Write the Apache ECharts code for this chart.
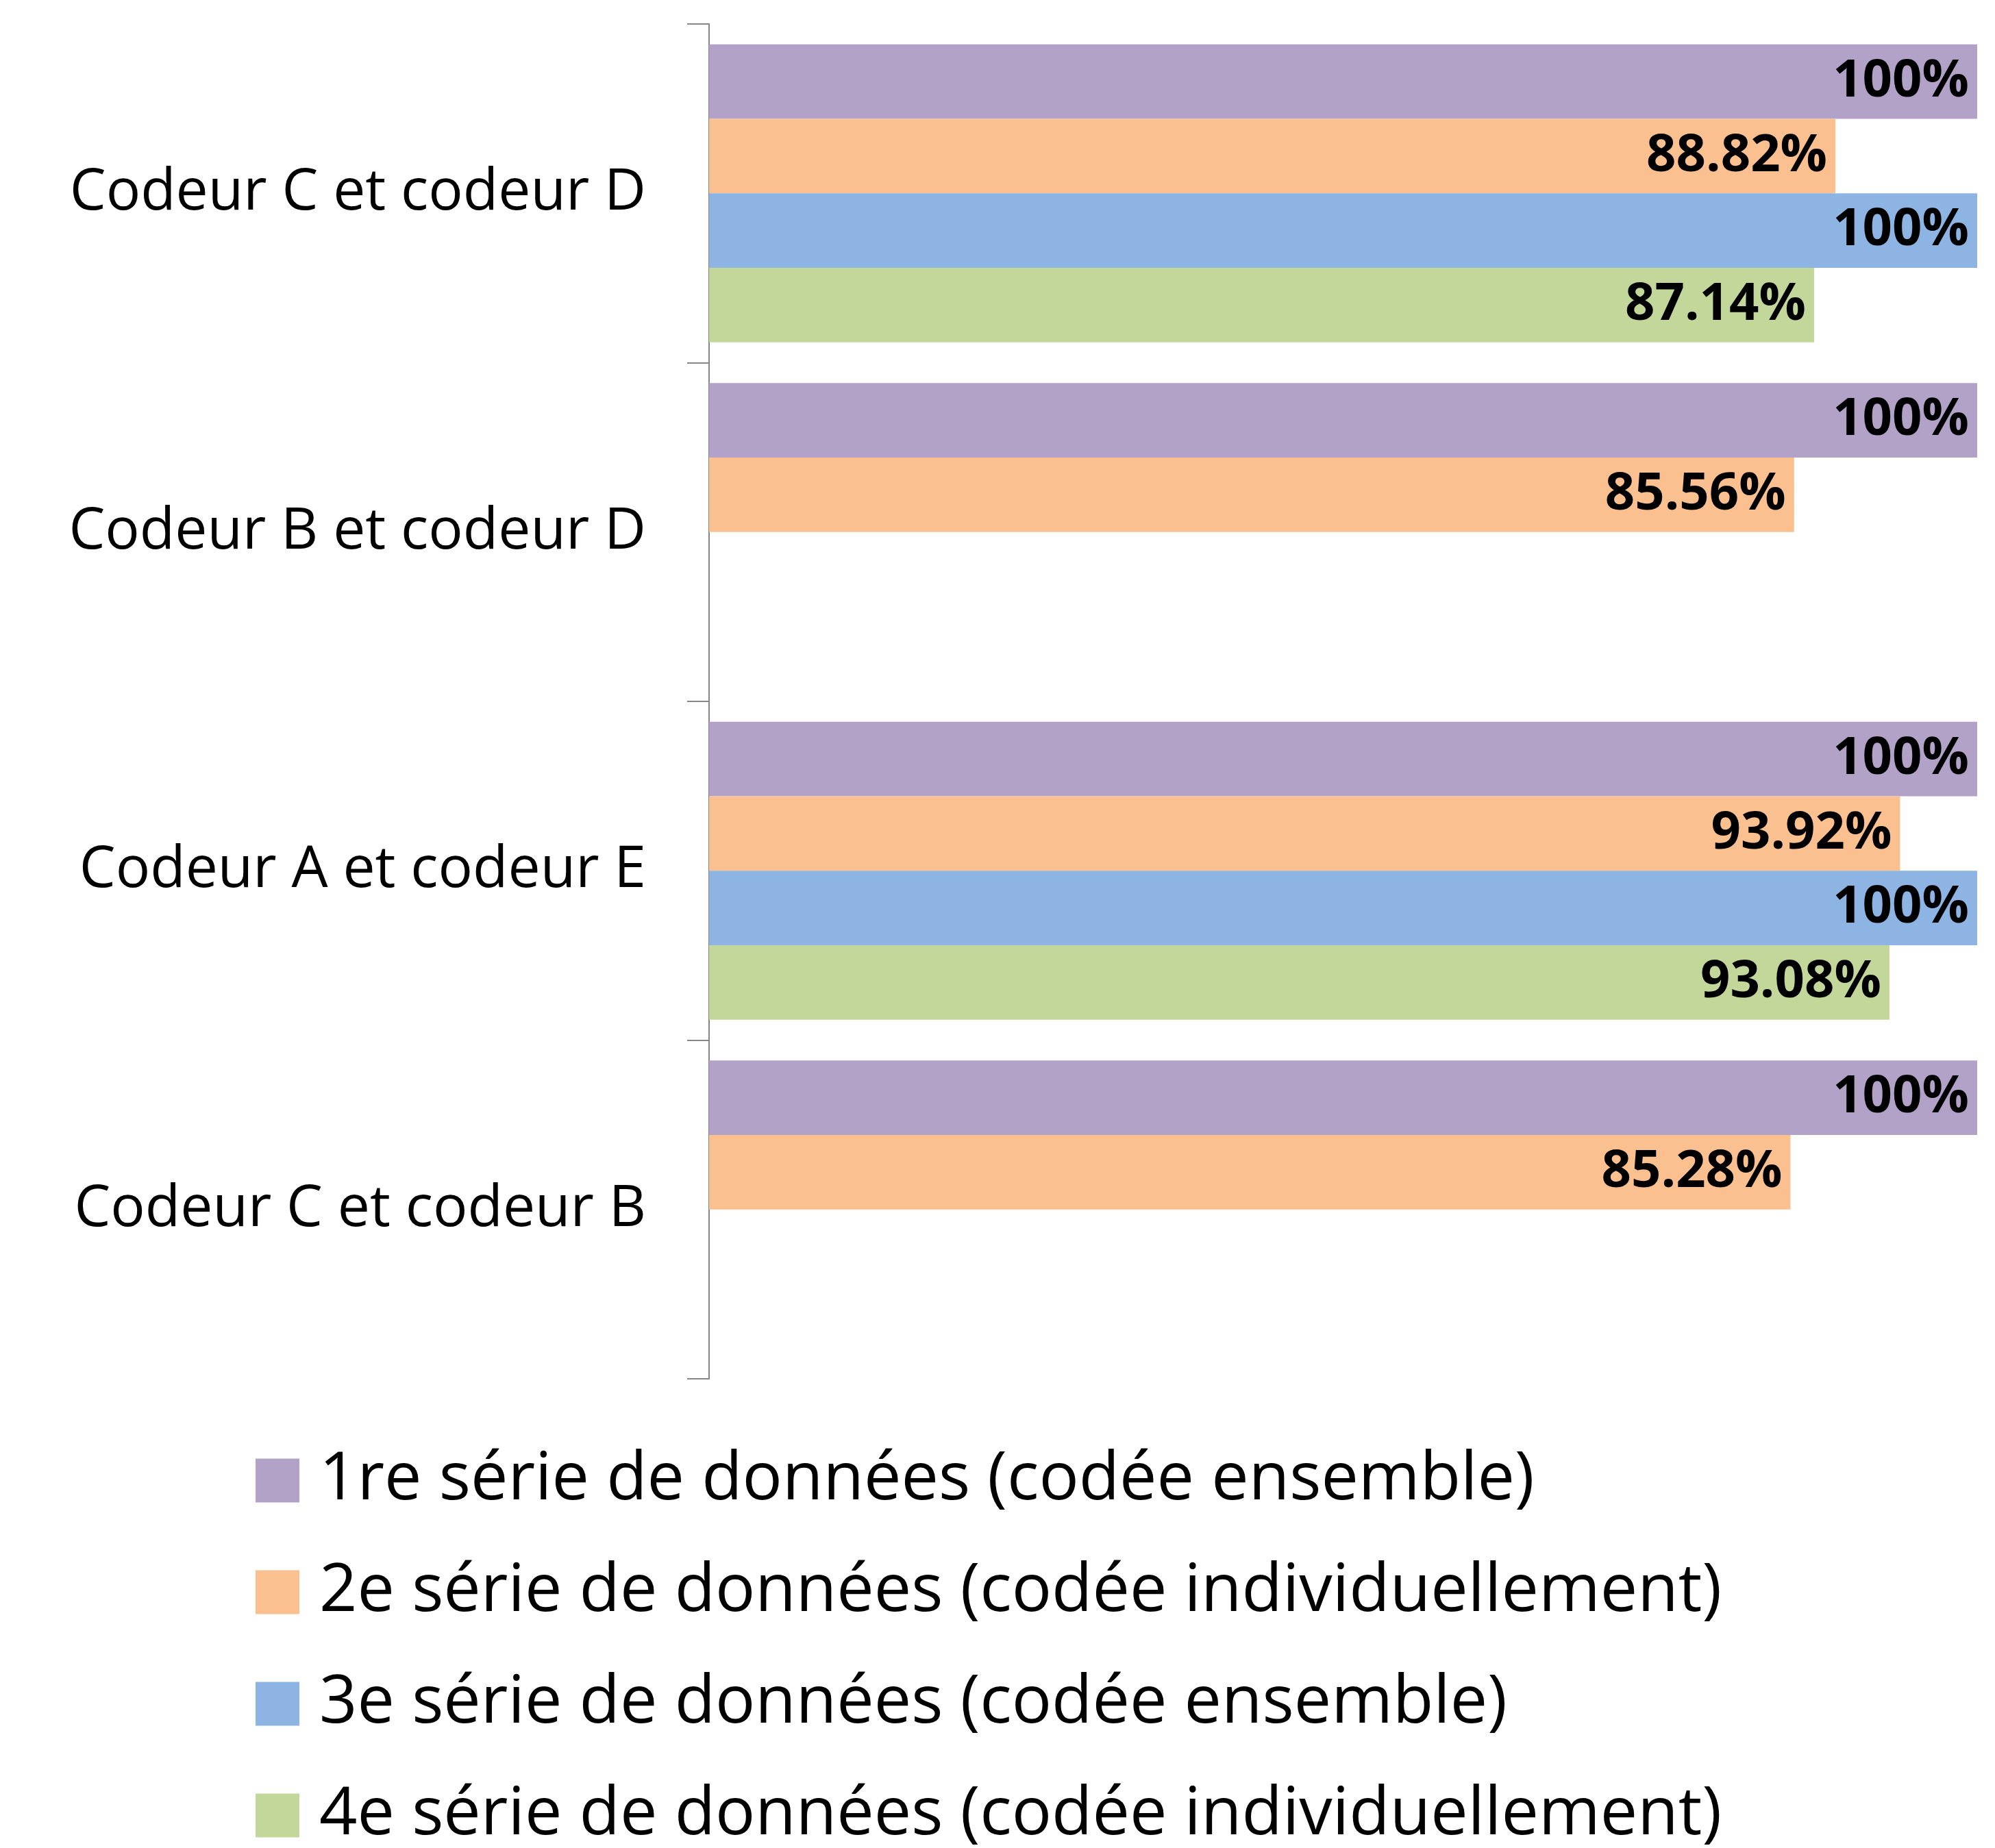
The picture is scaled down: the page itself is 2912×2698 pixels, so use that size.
<!DOCTYPE html>
<html>
<head>
<meta charset="utf-8">
<script src="https://cdn.jsdelivr.net/npm/echarts@6/dist/echarts.min.js"></script>
<style>
  html, body { margin: 0; padding: 0; background: #fff; }
  #chart { width: 2912px; height: 2698px; }
</style>
</head>
<body>
<div id="chart"></div>
<script>
const categories = ["Codeur C et codeur D", "Codeur B et codeur D", "Codeur A et codeur E", "Codeur C et codeur B"];
const seriesNames = [
  "1re série de données (codée ensemble)",
  "2e série de données (codée individuellement)",
  "3e série de données (codée ensemble)",
  "4e série de données (codée individuellement)"
];
const serie1 = [100, 100, 100, 100];
const serie2 = [88.82, 85.56, 93.92, 85.28];
const serie3 = [100, "-", 100, "-"];
const serie4 = [87.14, "-", 93.08, "-"];
const colors = ["#B3A2C7", "#FAC090", "#8EB4E3", "#C4D79B"];

const chart = echarts.init(document.getElementById("chart"));

function makeSeries(name, data, color) {
  return {
    name: name,
    type: "bar",
    data: data,
    barGap: "0%",
    barCategoryGap: "12%",
    itemStyle: { color: color },
    label: {
      show: true,
      position: "insideRight",
      distance: 12,
      formatter: "{c}%",
      color: "#000",
      fontFamily: "Open Sans",
      fontWeight: "bold",
      fontSize: 76
    }
  };
}

const option = {
  animation: false,
  backgroundColor: "#fff",
  grid: {
    left: 1035,
    right: 26,
    top: 35,
    bottom: 685,
    containLabel: false
  },
  legend: {
    orient: "vertical",
    left: 373,
    top: 2113,
    height: 640,
    padding: 0,
    itemWidth: 64,
    itemHeight: 64,
    itemGap: 66,
    icon: "rect",
    textStyle: {
      fontFamily: "Open Sans",
      fontSize: 97,
      color: "#000",
      padding: [0, 0, 0, 24]
    },
    data: seriesNames
  },
  xAxis: {
    type: "value",
    min: 0,
    max: 100,
    show: false
  },
  yAxis: {
    type: "category",
    data: categories,
    inverse: true,
    axisLine: { show: true, lineStyle: { color: "#868686", width: 2 } },
    axisTick: { show: true, length: 32, lineStyle: { color: "#868686", width: 2 } },
    axisLabel: {
      margin: 92,
      color: "#000",
      fontFamily: "Open Sans",
      fontSize: 84
    }
  },
  series: [
    makeSeries(seriesNames[0], serie1, colors[0]),
    makeSeries(seriesNames[1], serie2, colors[1]),
    makeSeries(seriesNames[2], serie3, colors[2]),
    makeSeries(seriesNames[3], serie4, colors[3])
  ]
};

chart.setOption(option);
</script>
</body>
</html>
